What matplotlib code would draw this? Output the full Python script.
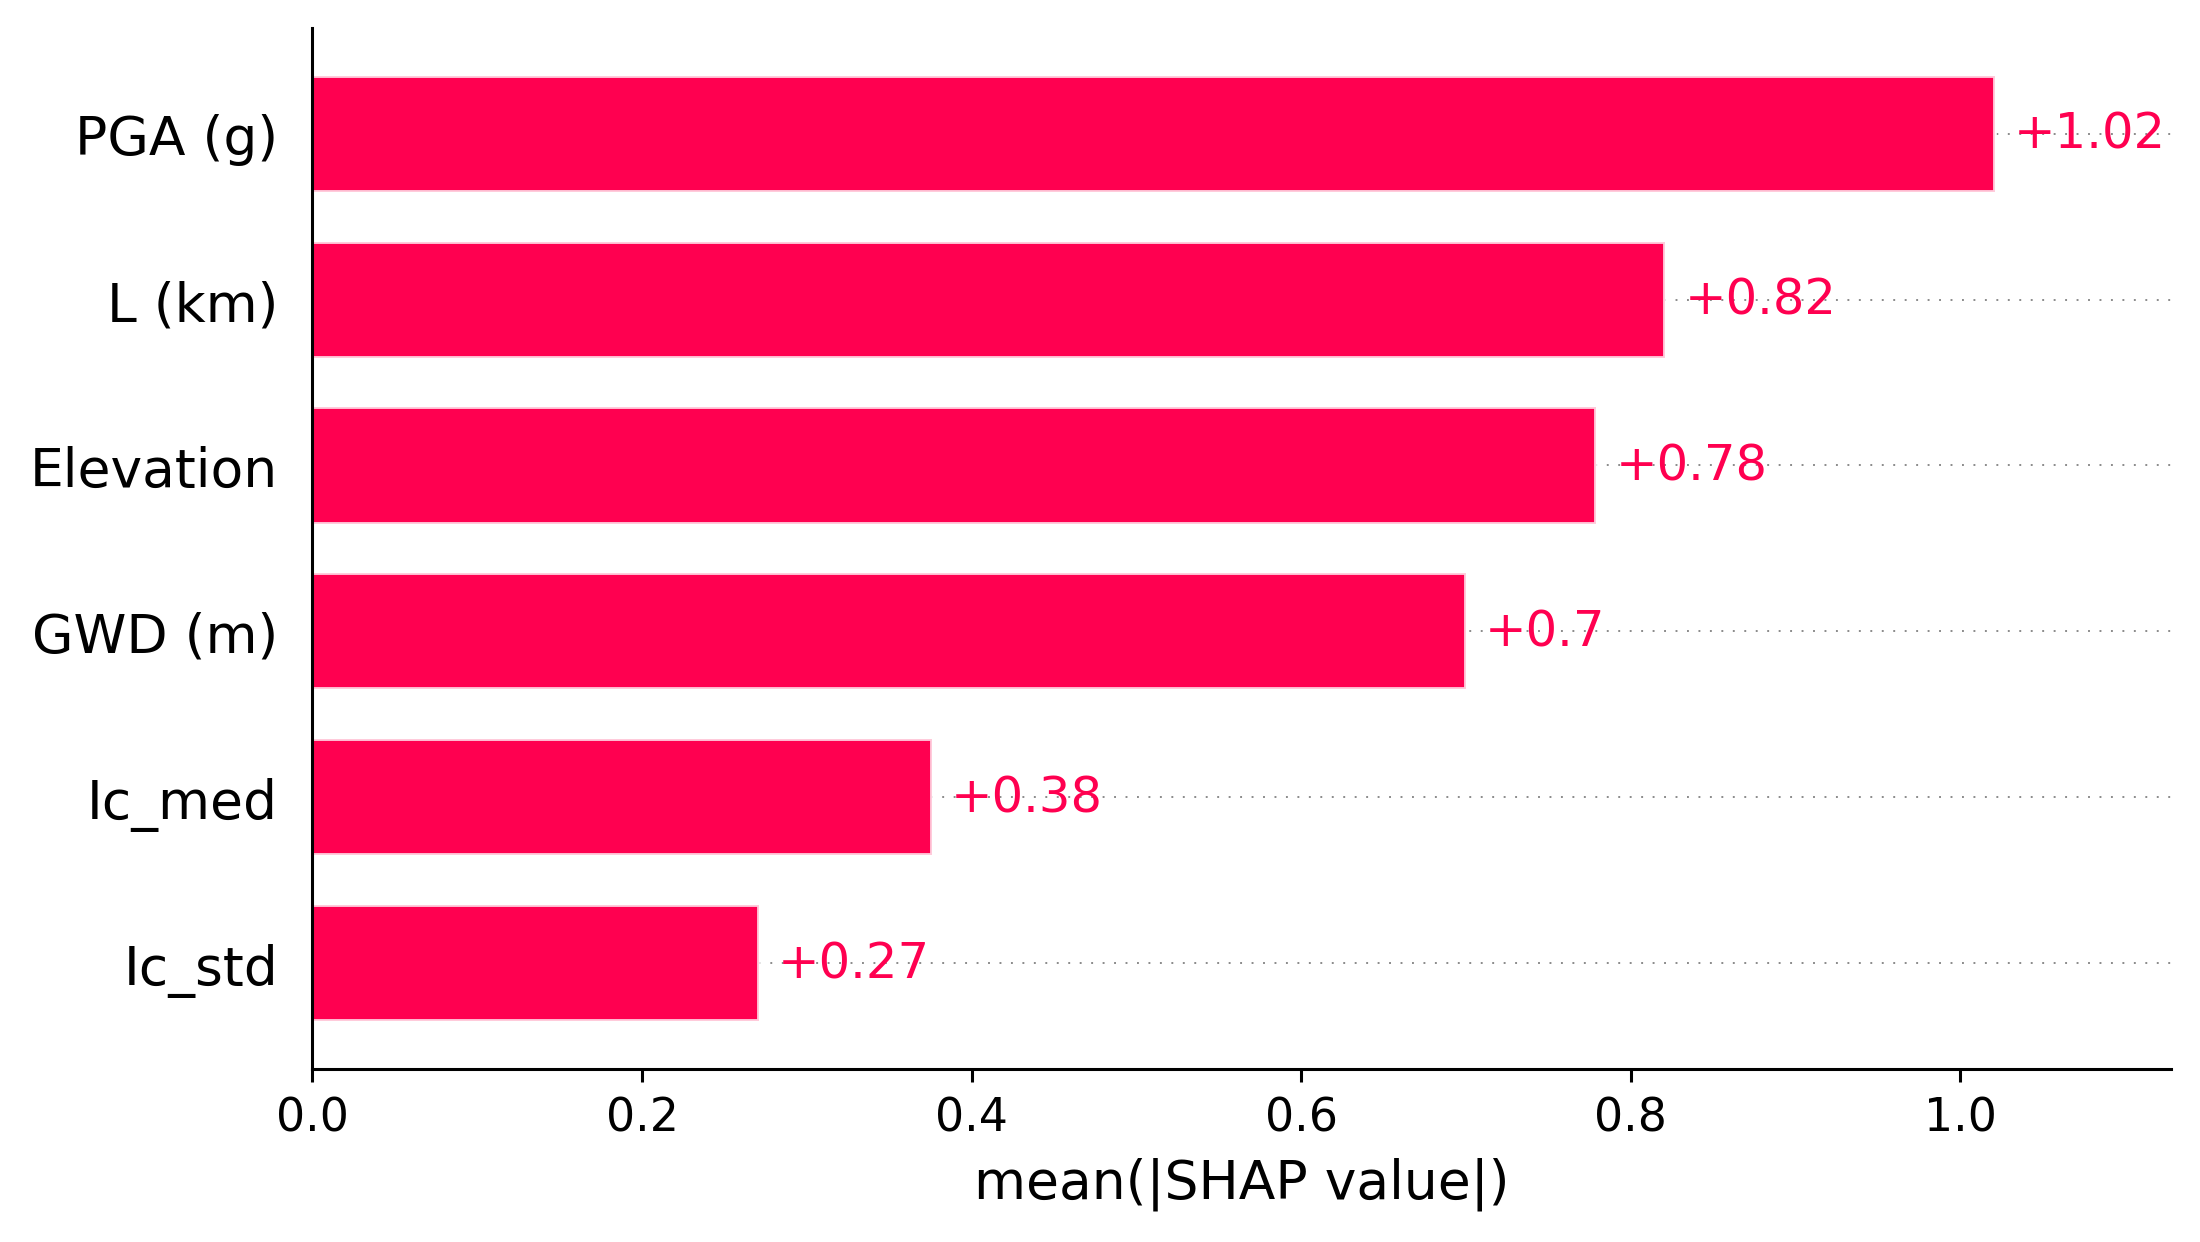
import numpy as np
import matplotlib
matplotlib.use("Agg")
import matplotlib.pyplot as plt


features = ["PGA (g)", "L (km)", "Elevation", "GWD (m)", "Ic_med", "Ic_std"]
shap_means = [1.021, 0.821, 0.779, 0.700, 0.376, 0.271]
value_labels = ["+1.02", "+0.82", "+0.78", "+0.7", "+0.38", "+0.27"]

red = (1.0, 0.0, 0.3137)

fig = plt.figure(figsize=(8, 4.52), dpi=275)
ax = fig.add_axes([0.142, 0.139, 0.845, 0.838])

y_pos = np.arange(len(features))[::-1]

for y in y_pos:
	ax.axhline(y, color="#888888", lw=0.5, dashes=(1, 5), zorder=-1)

ax.barh(y_pos, shap_means, 0.7, align="center", color=red, edgecolor=(1, 1, 1, 0.8))

for y, v, lab in zip(y_pos, shap_means, value_labels):
	ax.annotate(lab, (v, y), xytext=(5, 0), textcoords="offset points",
		ha="left", va="center", color=red, fontsize=13)

ax.set_yticks(y_pos)
ax.set_yticklabels(features, fontsize=14)
ax.tick_params(axis="y", length=0, pad=9)
ax.tick_params(axis="x", labelsize=12)

ax.set_xlim(0, 1.128)
ax.set_ylim(-0.64, 5.64)
ax.set_xlabel("mean(|SHAP value|)", fontsize=14)

ax.spines["right"].set_visible(False)
ax.spines["top"].set_visible(False)
ax.xaxis.set_ticks_position("bottom")

plt.savefig("out.png", dpi=275)
